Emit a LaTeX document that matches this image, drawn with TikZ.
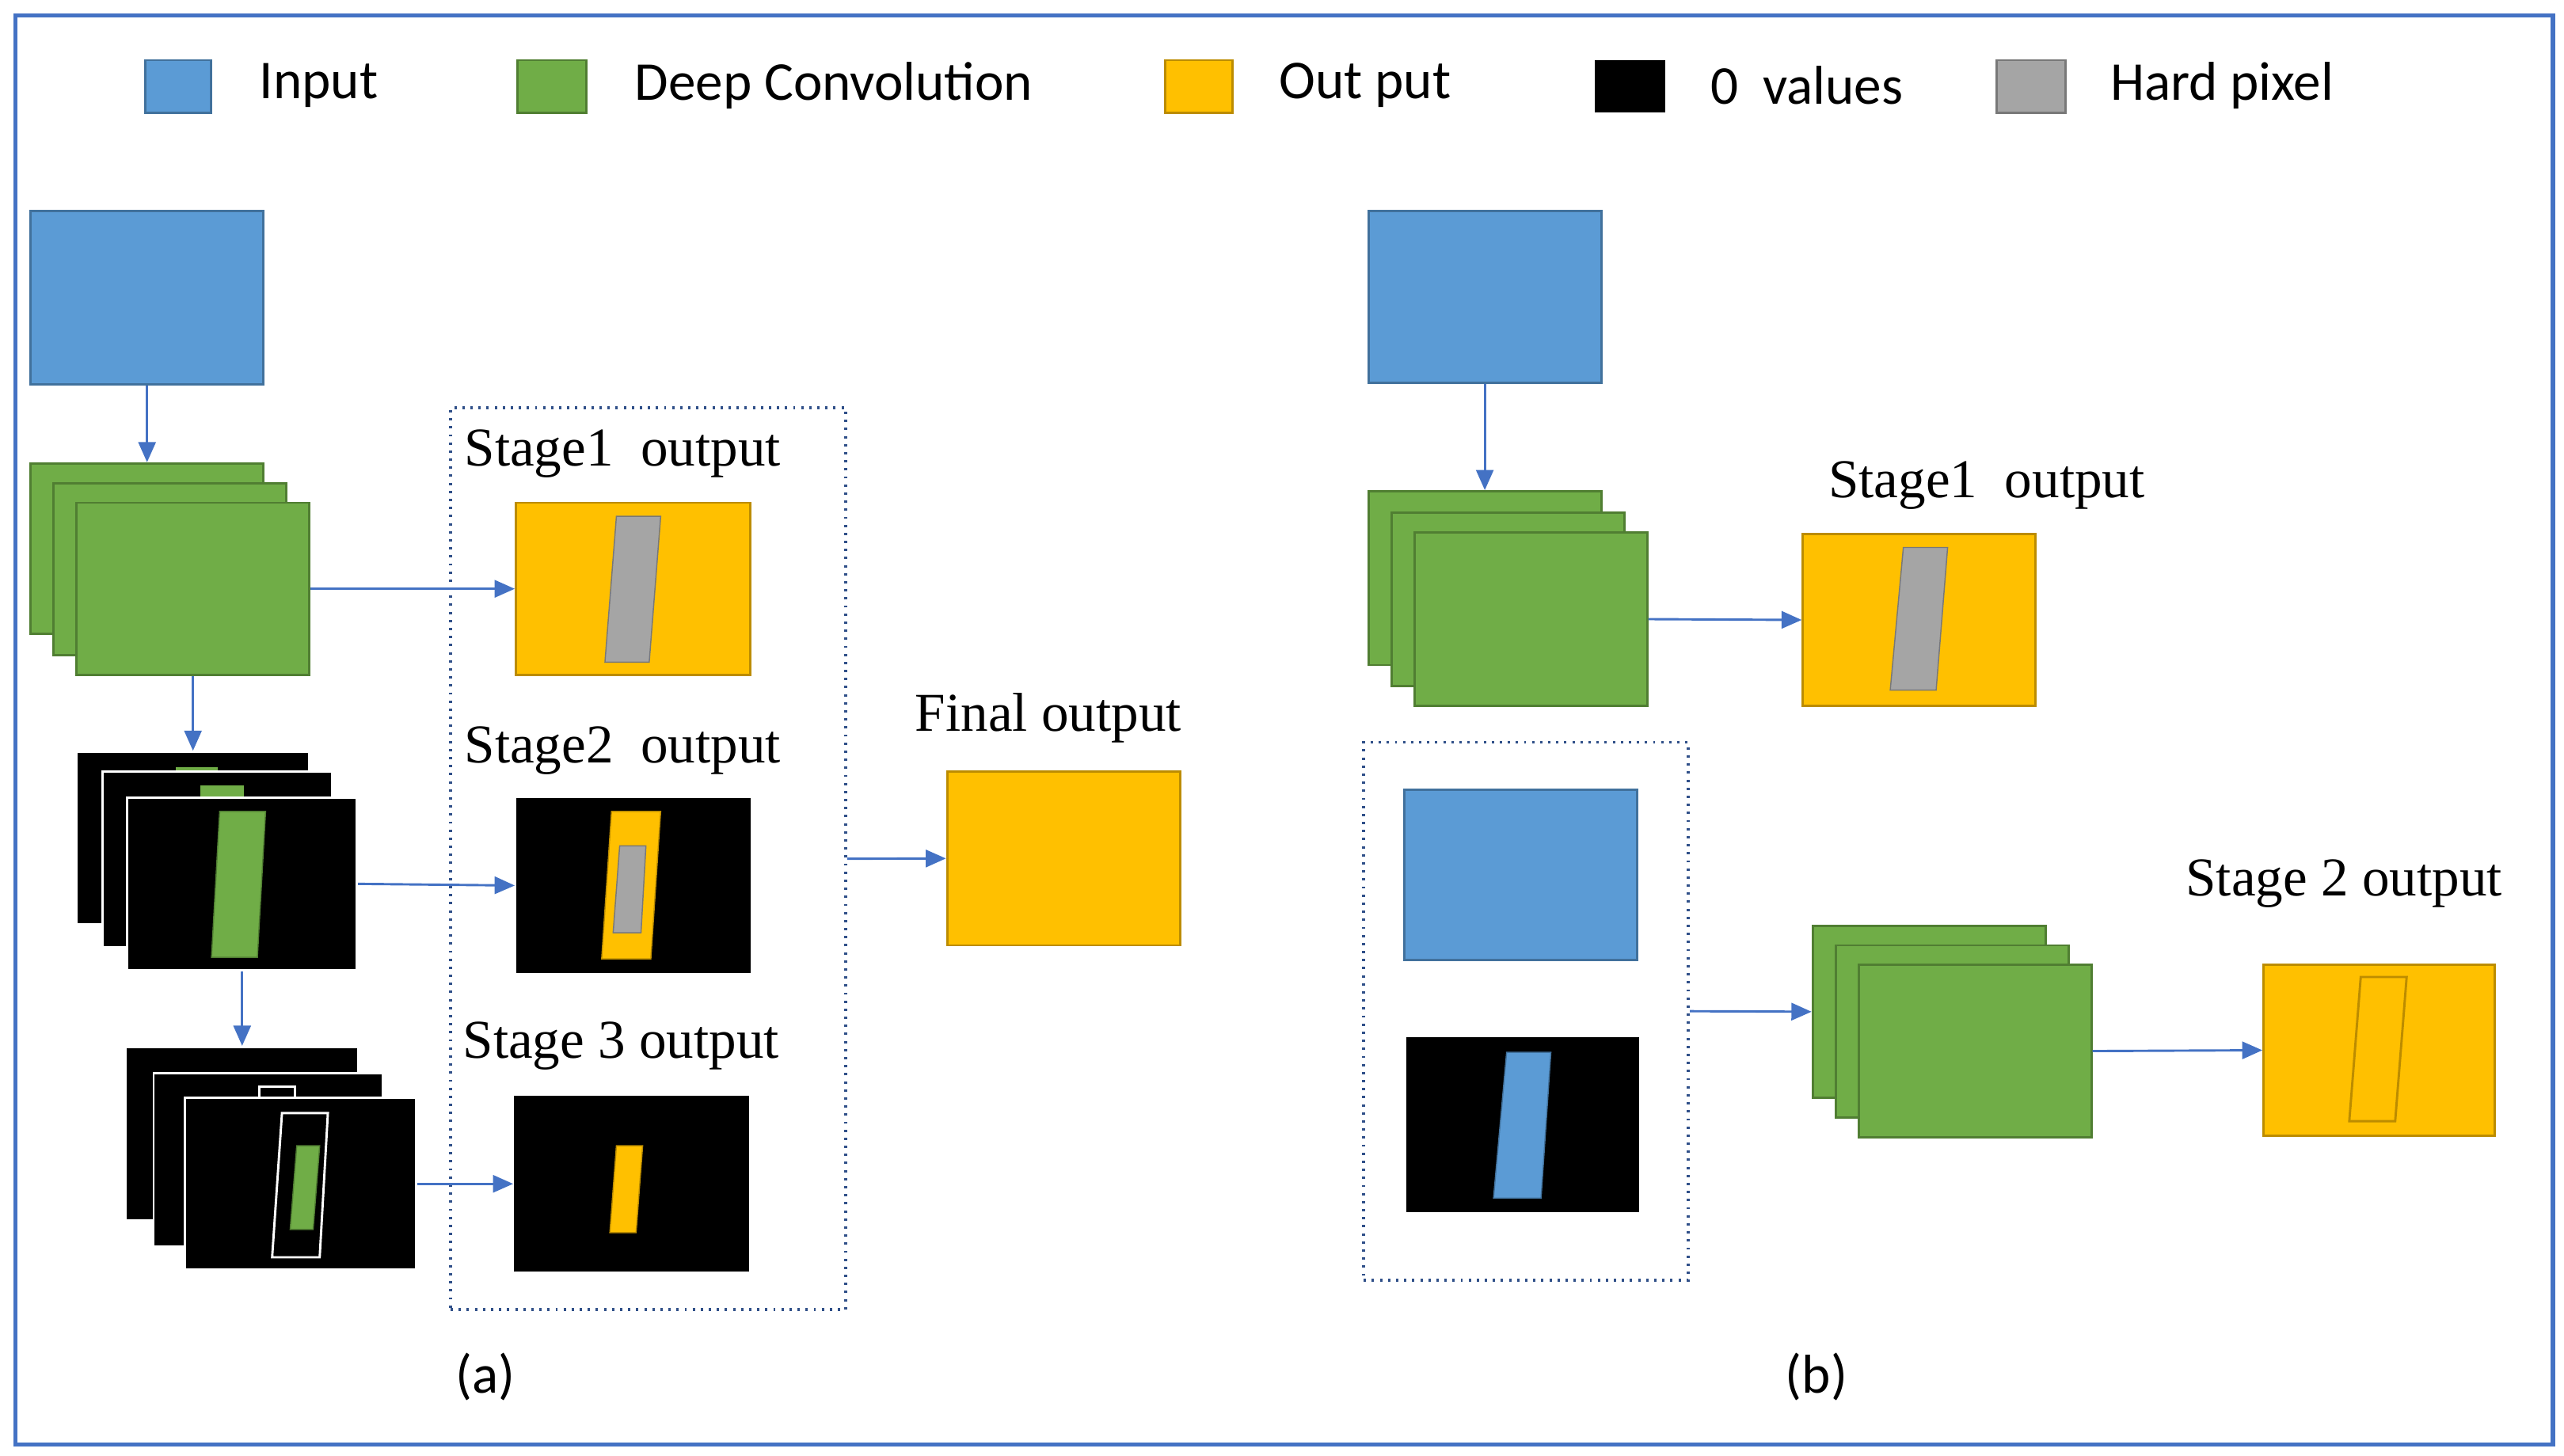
\documentclass[tikz,border=0pt]{standalone}
\usepackage{fontspec}
\setmainfont{Liberation Serif}
\newfontfamily\calfont{Carlito}
\usetikzlibrary{arrows.meta}
\definecolor{cblue}{HTML}{5B9BD5}\definecolor{cbluel}{HTML}{41719C}
\definecolor{cgreen}{HTML}{70AD47}\definecolor{cgreenl}{HTML}{507E32}
\definecolor{cyel}{HTML}{FFC000}\definecolor{cyell}{HTML}{BC8C00}
\definecolor{cgray}{HTML}{A5A5A5}\definecolor{cgrayl}{HTML}{787878}
\definecolor{carr}{HTML}{4472C4}
\begin{document}
\begin{tikzpicture}[x=0.2mm,y=-0.2mm,
 bx/.style={rectangle,inner sep=0pt,anchor=north west,line width=0.8pt},
 blu/.style={bx,fill=cblue,draw=cbluel},
 grn/.style={bx,fill=cgreen,draw=cgreenl},
 yel/.style={bx,fill=cyel,draw=cyell},
 blk/.style={bx,fill=black,draw=white},
 sz/.style 2 args={minimum width=#1*0.2mm,minimum height=#2*0.2mm},
 dbox/.style={bx,draw=carr!70!black,dotted,line width=1pt},
 arr/.style={draw=carr,line width=0.8pt,-{Triangle[length=7pt,width=6pt]}},
 lab/.style={anchor=west,inner sep=0pt,font=\fontsize{19}{22}\selectfont},
 leg/.style={anchor=west,inner sep=0pt,font=\calfont\fontsize{19}{22}\selectfont}]
\useasboundingbox (0,0) rectangle (1564,888);
\fill[white] (0,0) rectangle (1564,888);
\node[bx,draw=carr,line width=1.5pt,sz={1548}{872}] (frame) at (8,8) {};
% legend
\node[blu,sz={40}{32}] (l1) at (88,36) {}; \node[leg] (t1) at (158,52) {Input};
\node[grn,sz={42}{32}] (l2) at (315,36) {}; \node[leg] (t2) at (387,52) {Deep Convolution};
\node[yel,sz={41}{32}] (l3) at (710,36) {}; \node[leg] (t3) at (780,52) {Out put};
\node[bx,fill=black,sz={43}{32}] (l4) at (972,36) {}; \node[leg] (t4) at (1043,52) {0\ \ values};
\node[bx,fill=cgray,draw=cgrayl,sz={42}{32}] (l5) at (1217,36) {}; \node[leg] (t5) at (1287,52) {Hard pixel};
% (a)
\node[blu,sz={142}{106}] (ain) at (18,128) {};
\node[grn,sz={142}{104}] (ag1) at (18,282) {};
\node[grn,sz={142}{105}] (ag2) at (32,294) {};
\node[grn,sz={142}{105}] (ag3) at (46,306) {};
\node[dbox,sz={241}{550}] (abox) at (274,248) {};
\node[lab] (as1t) at (283,277) {Stage1\ \ output};
\node[yel,sz={143}{105}] (as1) at (314,306) {};
\fill[cgray,draw=cgrayl] (376,315)--(403,315)--(396,404)--(369,404)--cycle;
% stage2 stack
\node[blk,sz={142}{105}] (ab1) at (46,458) {};
\fill[cgreen] (107,468)--(133,468)--(133,472)--(107,472)--cycle;
\node[blk,sz={140}{107}] (ab2) at (62,470) {};
\fill[cgreen] (122,479)--(149,479)--(149,486)--(122,486)--cycle;
\node[blk,sz={140}{105}] (ab3) at (77,486) {};
\fill[cgreen,draw=cgreenl] (134,495)--(162,495)--(157,584)--(129,584)--cycle;
\node[lab] (as2t) at (283,458) {Stage2\ \ output};
\node[bx,fill=black,sz={143}{107}] (as2) at (314,486) {};
\fill[cyel,draw=cyell] (373,495)--(403,495)--(397,585)--(367,585)--cycle;
\fill[cgray,draw=cgrayl] (378,516)--(394,516)--(391,569)--(374,569)--cycle;
% stage3 stack
\node[blk,sz={142}{106}] (ac1) at (76,638) {};
\node[blk,sz={140}{106}] (ac2) at (93,654) {};
\draw[white,line width=0.8pt] (158,669)--(158,663)--(180,663)--(180,669);
\node[blk,sz={141}{105}] (ac3) at (112,669) {};
\draw[white,line width=0.8pt] (172,679)--(200,679)--(195,767)--(166,767)--cycle;
\fill[cgreen,draw=cgreenl] (181,699)--(195,699)--(191,750)--(177,750)--cycle;
\node[lab] (as3t) at (282,638) {Stage 3 output};
\node[bx,fill=black,sz={143}{107}] (as3) at (313,668) {};
\fill[cyel,draw=cyell] (376,699)--(392,699)--(388,752)--(372,752)--cycle;
\node[lab] (aft) at (558,438) {Final output};
\node[yel,sz={142}{106}] (afin) at (577,470) {};
\draw[arr] (ain.south) -- (ag1.north);
\draw[arr] (ag3.east) -- (as1.west);
\draw[arr] (ag3.south) -- (ab1.north -| ag3.south);
\draw[arr] (ab3.east) -- (as2.west);
\draw[arr] (ab3.south) -- (ac1.north -| ab3.south);
\draw[arr] (ac3.east) -- (as3.west);
\draw[arr] (abox.east) -- (afin.west);
\node[leg,anchor=center] (alab) at (296,840) {(a)};
% (b)
\node[blu,sz={142}{105}] (bin) at (834,128) {};
\node[grn,sz={142}{106}] (bg1) at (834,299) {};
\node[grn,sz={142}{106}] (bg2) at (848,312) {};
\node[grn,sz={142}{106}] (bg3) at (862,324) {};
\node[lab] (bs1t) at (1115,296) {Stage1\ \ output};
\node[yel,sz={142}{105}] (bs1) at (1099,325) {};
\fill[cgray,draw=cgrayl] (1161,334)--(1188,334)--(1181,421)--(1153,421)--cycle;
\node[dbox,sz={198}{328}] (bbox) at (831,452) {};
\node[blu,sz={142}{104}] (bin2) at (856,481) {};
\node[bx,fill=black,sz={142}{107}] (bmask) at (857,632) {};
\fill[cblue,draw=cbluel] (919,642)--(946,642)--(940,731)--(911,731)--cycle;
\node[grn,sz={142}{105}] (bh1) at (1105,564) {};
\node[grn,sz={142}{105}] (bh2) at (1119,576) {};
\node[grn,sz={142}{105}] (bh3) at (1133,588) {};
\node[lab] (bs2t) at (1333,539) {Stage 2 output};
\node[yel,sz={141}{104}] (bs2) at (1380,588) {};
\draw[cyell,line width=0.8pt] (1440,596)--(1468,596)--(1461,684)--(1433,684)--cycle;
\draw[arr] (bin.south) -- (bg1.north);
\draw[arr] (bg3.east) -- (bs1.west);
\draw[arr] (bbox.east) -- (bh1.west);
\draw[arr] (bh3.east) -- (bs2.west);
\node[leg,anchor=center] (blab) at (1108,840) {(b)};
\end{tikzpicture}
\end{document}
